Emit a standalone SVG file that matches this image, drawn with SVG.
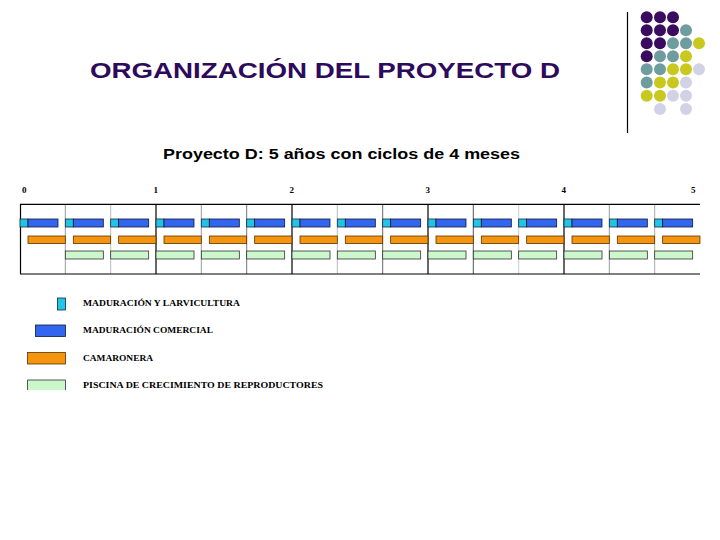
<svg xmlns="http://www.w3.org/2000/svg" xmlns:xlink="http://www.w3.org/1999/xlink" width="720" height="540" viewBox="0 0 720 540">
<style>
.title{font-family:"Liberation Sans",Arial,sans-serif;font-weight:bold;font-size:22px;fill:#2e0a5c}
.sub{font-family:"Liberation Sans",Arial,sans-serif;font-weight:bold;font-size:14px;fill:#000}
.yr{font-family:"Liberation Serif","Times New Roman",serif;font-weight:bold;font-size:9px;fill:#000}
.leg{font-family:"Liberation Serif","Times New Roman",serif;font-weight:bold;font-size:9px;fill:#000}
.cy{fill:#22c4e6;stroke:#1a2a40;stroke-width:0.8}
.bl{fill:#3366ee;stroke:#101838;stroke-width:0.8}
.or{fill:#f5940f;stroke:#5a3200;stroke-width:0.8}
.gr{fill:#ccf7cc;stroke:#303030;stroke-width:0.8}
.p{fill:#3a0c60}.t{fill:#6f9c9e}.y{fill:#c8c81e}.l{fill:#d2d2e6}
.yl{stroke:#000;stroke-width:1.2}
.cl{stroke:#999;stroke-width:1}
</style>
<defs>
<g id="cyc">
<rect class="cy" x="0" y="219" width="8" height="8"/>
<rect class="bl" x="8" y="219" width="30" height="8"/>
<rect class="or" x="8" y="236" width="37.3" height="7.5"/>
</g>
<rect id="grn" class="gr" x="0" y="251" width="38" height="8"/>
</defs>
<rect width="720" height="540" fill="#fff"/>
<g id="decor">
<line x1="627.5" y1="12" x2="627.5" y2="133" stroke="#000" stroke-width="1.2"/>
<circle class="p" cx="646.7" cy="17.3" r="6"/><circle class="p" cx="660" cy="17.3" r="6"/><circle class="p" cx="673" cy="17.3" r="6"/>
<circle class="p" cx="646.7" cy="30.3" r="6"/><circle class="p" cx="660" cy="30.3" r="6"/><circle class="p" cx="673" cy="30.3" r="6"/><circle class="t" cx="686" cy="30.3" r="6"/>
<circle class="p" cx="646.7" cy="43.3" r="6"/><circle class="p" cx="660" cy="43.3" r="6"/><circle class="t" cx="673" cy="43.3" r="6"/><circle class="t" cx="686" cy="43.3" r="6"/><circle class="y" cx="699" cy="43.3" r="6"/>
<circle class="p" cx="646.7" cy="56.3" r="6"/><circle class="t" cx="660" cy="56.3" r="6"/><circle class="t" cx="673" cy="56.3" r="6"/><circle class="y" cx="686" cy="56.3" r="6"/>
<circle class="t" cx="646.7" cy="69.3" r="6"/><circle class="t" cx="660" cy="69.3" r="6"/><circle class="y" cx="673" cy="69.3" r="6"/><circle class="y" cx="686" cy="69.3" r="6"/><circle class="l" cx="699" cy="69.3" r="6"/>
<circle class="t" cx="646.7" cy="82.5" r="6"/><circle class="y" cx="660" cy="82.5" r="6"/><circle class="y" cx="673" cy="82.5" r="6"/><circle class="l" cx="686" cy="82.5" r="6"/>
<circle class="y" cx="646.7" cy="95.7" r="6"/><circle class="y" cx="660" cy="95.7" r="6"/><circle class="l" cx="673" cy="95.7" r="6"/><circle class="l" cx="686" cy="95.7" r="6"/>
<circle class="l" cx="660" cy="109" r="6"/><circle class="l" cx="686" cy="109" r="6"/>
</g>
<text class="title" x="90" y="77.5" textLength="470" lengthAdjust="spacingAndGlyphs">ORGANIZACIÓN DEL PROYECTO D</text>
<text class="sub" x="163" y="158.5" textLength="357" lengthAdjust="spacingAndGlyphs">Proyecto D: 5 años con ciclos de 4 meses</text>
<g id="years">
<text class="yr" x="22" y="193">0</text>
<text class="yr" x="153.5" y="193">1</text>
<text class="yr" x="289.5" y="193">2</text>
<text class="yr" x="425.5" y="193">3</text>
<text class="yr" x="561.5" y="193">4</text>
<text class="yr" x="691" y="193">5</text>
</g>
<g id="grid">
<line x1="65.3" y1="204" x2="65.3" y2="274" class="cl" stroke="#666"/>
<line x1="110.7" y1="204" x2="110.7" y2="274" class="cl" style="stroke:#bbb"/>
<line x1="201.3" y1="204" x2="201.3" y2="274" class="cl"/>
<line x1="246.7" y1="204" x2="246.7" y2="274" class="cl" style="stroke:#777"/>
<line x1="337.3" y1="204" x2="337.3" y2="274" class="cl" style="stroke:#bbb"/>
<line x1="382.7" y1="204" x2="382.7" y2="274" class="cl" style="stroke:#666"/>
<line x1="473.3" y1="204" x2="473.3" y2="274" class="cl" style="stroke:#555"/>
<line x1="518.7" y1="204" x2="518.7" y2="274" class="cl" style="stroke:#ccc"/>
<line x1="609.3" y1="204" x2="609.3" y2="274" class="cl"/>
<line x1="654.7" y1="204" x2="654.7" y2="274" class="cl" style="stroke:#aaa"/>
<line x1="20.5" y1="204" x2="20.5" y2="274" class="yl"/>
<line x1="156" y1="204" x2="156" y2="274" class="yl"/>
<line x1="292" y1="204" x2="292" y2="274" class="yl"/>
<line x1="428" y1="204" x2="428" y2="274" class="yl"/>
<line x1="564" y1="204" x2="564" y2="274" class="yl"/>
<line x1="20" y1="204.3" x2="700" y2="204.3" class="yl"/>
<line x1="20" y1="274" x2="700" y2="274" class="yl"/>
</g>
<g id="bars">
<use xlink:href="#cyc" x="20"/>
<use xlink:href="#cyc" x="65.33"/>
<use xlink:href="#cyc" x="110.67"/>
<use xlink:href="#cyc" x="156"/>
<use xlink:href="#cyc" x="201.33"/>
<use xlink:href="#cyc" x="246.67"/>
<use xlink:href="#cyc" x="292"/>
<use xlink:href="#cyc" x="337.33"/>
<use xlink:href="#cyc" x="382.67"/>
<use xlink:href="#cyc" x="428"/>
<use xlink:href="#cyc" x="473.33"/>
<use xlink:href="#cyc" x="518.67"/>
<use xlink:href="#cyc" x="564"/>
<use xlink:href="#cyc" x="609.33"/>
<use xlink:href="#cyc" x="654.67"/>
<use xlink:href="#grn" x="65.33"/>
<use xlink:href="#grn" x="110.67"/>
<use xlink:href="#grn" x="156"/>
<use xlink:href="#grn" x="201.33"/>
<use xlink:href="#grn" x="246.67"/>
<use xlink:href="#grn" x="292"/>
<use xlink:href="#grn" x="337.33"/>
<use xlink:href="#grn" x="382.67"/>
<use xlink:href="#grn" x="428"/>
<use xlink:href="#grn" x="473.33"/>
<use xlink:href="#grn" x="518.67"/>
<use xlink:href="#grn" x="564"/>
<use xlink:href="#grn" x="609.33"/>
<use xlink:href="#grn" x="654.67"/>
</g>
<g id="legend">
<rect class="cy" x="57.5" y="298" width="8" height="12"/>
<text class="leg" x="83" y="306" textLength="157" lengthAdjust="spacingAndGlyphs">MADURACIÓN Y LARVICULTURA</text>
<rect class="bl" x="35.5" y="325" width="30" height="11.5"/>
<text class="leg" x="83" y="333" textLength="130" lengthAdjust="spacingAndGlyphs">MADURACIÓN COMERCIAL</text>
<rect class="or" x="27.5" y="352.5" width="38" height="11.5"/>
<text class="leg" x="83" y="360.5" textLength="70" lengthAdjust="spacingAndGlyphs">CAMARONERA</text>
<path class="gr" d="M27.5 390 V380 H65.5 V390"/>
<text class="leg" x="83" y="388" textLength="240" lengthAdjust="spacingAndGlyphs">PISCINA DE CRECIMIENTO DE REPRODUCTORES</text>
</g>
</svg>
